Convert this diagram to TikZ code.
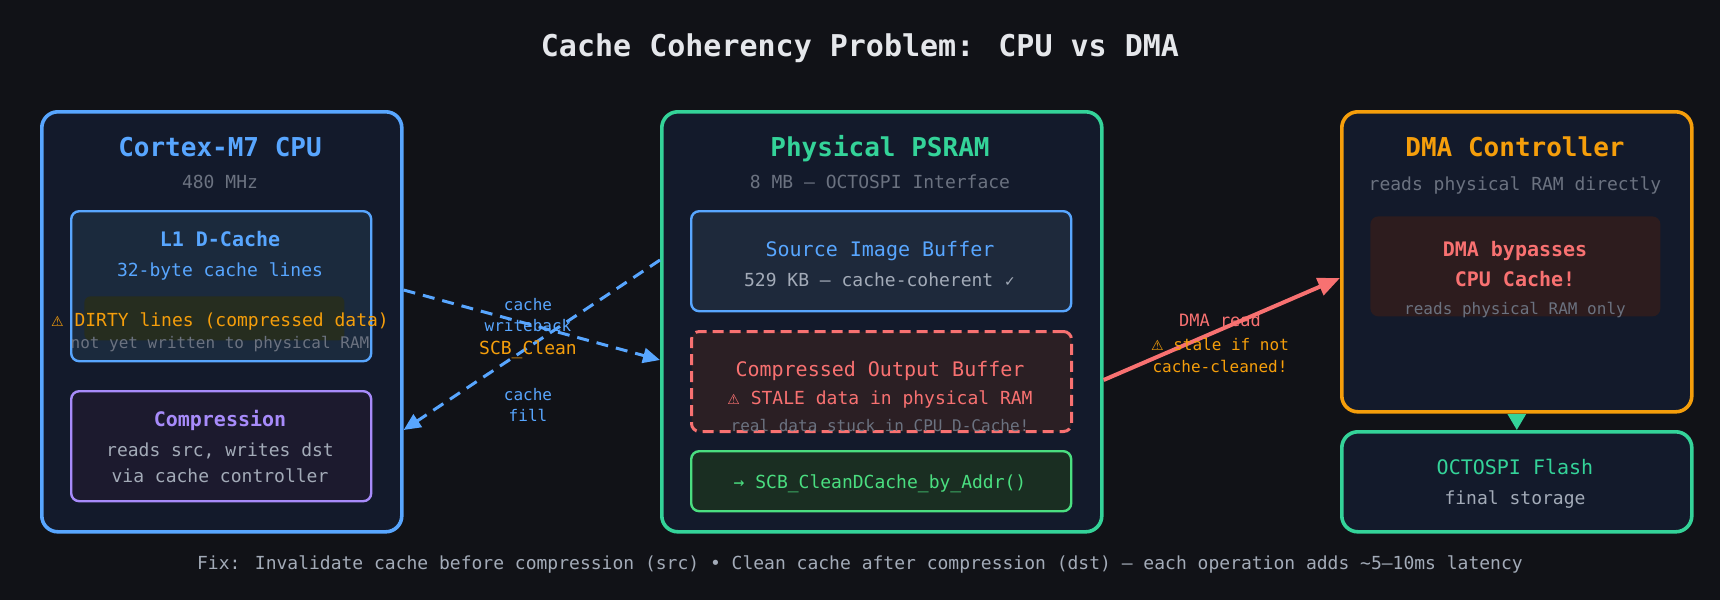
\documentclass[tikz,border=0pt]{standalone}
\usepackage{fontspec}
\setmainfont{DejaVu Sans Mono}
\newfontfamily\symf{DejaVu Sans}
\usetikzlibrary{arrows.meta,calc}
\definecolor{bg}{HTML}{111217}
\definecolor{panelbg}{HTML}{131A2B}
\definecolor{cblue}{HTML}{58A6FF}
\definecolor{cgreen}{HTML}{34D399}
\definecolor{lgreen}{HTML}{4ADE80}
\definecolor{corange}{HTML}{F59E0B}
\definecolor{cred}{HTML}{F87171}
\definecolor{cpurple}{HTML}{A78BFA}
\definecolor{cgray}{HTML}{6B7280}
\definecolor{lgray}{HTML}{A3ABB8}
\definecolor{titlec}{HTML}{E5E7EB}
\definecolor{l1bg}{HTML}{1B2A3D}
\definecolor{srcbg}{HTML}{1E293B}
\definecolor{cmpbg}{HTML}{2B1F24}
\definecolor{scbbg}{HTML}{1A2E22}
\definecolor{dmabg}{HTML}{2D1C1E}
\definecolor{compbg}{HTML}{1C1A2E}
\definecolor{olive}{HTML}{262D1F}
\newcommand{\fsz}[1]{\fontsize{#1}{#1}\selectfont}
\newcommand{\warn}{{\symf\fontsize{7}{7}\selectfont ⚠}}
\begin{document}
\begin{tikzpicture}[x=1pt,y=-1pt,
  panel/.style={draw, line width=1.8pt, rounded corners=8pt, fill=panelbg, inner sep=0, anchor=north west},
  inbox/.style={draw, line width=1.2pt, rounded corners=4pt, inner sep=0, anchor=north west},
  txt/.style={anchor=base, inner sep=0},
  bluearrow/.style={draw=cblue, line width=1.5pt, dash pattern=on 6pt off 4pt, -{Triangle[length=8.5pt,width=7.5pt]}},
]
\useasboundingbox[fill=bg] (0,0) rectangle (860,300);

% title
\node[txt, font=\bfseries\fsz{15}, text=titlec] (title) at (430,28) {Cache Coherency Problem: CPU vs DMA};

% CPU panel
\node[panel, draw=cblue, minimum width=180pt, minimum height=210pt] (cpu) at (20,55) {};
\node[txt, font=\bfseries\fsz{13}, text=cblue] (cputitle) at (110,78.3) {Cortex-M7 CPU};
\node[txt, font=\fsz{9}, text=cgray] (cpusub) at (110,94.2) {480 MHz};
\node[inbox, draw=cblue, fill=l1bg, minimum width=150pt, minimum height=75pt] (l1) at (35,105) {};
\node[txt, font=\bfseries\fsz{10}, text=cblue] (l1t) at (110,123.3) {L1 D-Cache};
\node[txt, font=\fsz{9}, text=cblue] (l1s) at (110,138.3) {32-byte cache lines};
\node[anchor=north west, fill=olive, rounded corners=3pt, minimum width=130pt, minimum height=22pt, inner sep=0] (band) at (42,148) {};
\node[txt, font=\fsz{9}, text=corange] (dirty) at (110,163) {\warn\ DIRTY lines (compressed data)};
\node[txt, font=\fsz{8}, text=cgray] (notyet) at (110,174.2) {not yet written to physical RAM};
\node[inbox, draw=cpurple, fill=compbg, minimum width=150pt, minimum height=55pt] (comp) at (35,195) {};
\node[txt, font=\bfseries\fsz{10}, text=cpurple] (compt) at (110,213.3) {Compression};
\node[txt, font=\fsz{9}, text=lgray] (comps1) at (110,228) {reads src, writes dst};
\node[txt, font=\fsz{9}, text=lgray] (comps2) at (110,241.2) {via cache controller};

% PSRAM panel
\node[panel, draw=cgreen, minimum width=220pt, minimum height=210pt] (psram) at (330,55) {};
\node[txt, font=\bfseries\fsz{13}, text=cgreen] (pst) at (440,78.3) {Physical PSRAM};
\node[txt, font=\fsz{9}, text=cgray] (pss) at (440,94.2) {8 MB — OCTOSPI Interface};
\node[inbox, draw=cblue, fill=srcbg, minimum width=190pt, minimum height=50pt] (src) at (345,105) {};
\node[txt, font=\fsz{10}, text=cblue] (srct) at (440,128.2) {Source Image Buffer};
\node[txt, font=\fsz{9}, text=lgray] (srcs) at (440,143.3) {529 KB — cache-coherent {\symf\fontsize{7}{7}\selectfont ✓}};
\node[inbox, draw=cred, fill=cmpbg, line width=1.5pt, dash pattern=on 5.5pt off 3pt, minimum width=190pt, minimum height=50pt] (cmp) at (345,165) {};
\node[txt, font=\fsz{10}, text=cred] (cmpt) at (440,188) {Compressed Output Buffer};
\node[txt, font=\fsz{9}, text=cred] (cmps) at (440,202.3) {\warn\ STALE data in physical RAM};
\node[txt, font=\fsz{8}, text=cgray] (cmpr) at (440,215.5) {real data stuck in CPU D-Cache!};
\node[inbox, draw=lgreen, fill=scbbg, minimum width=190pt, minimum height=30pt] (scb) at (345,225) {};
\node[txt, font=\fsz{9}, text=lgreen] (scbt) at (440,244.2) {→ SCB\_CleanDCache\_by\_Addr()};

% DMA panel
\node[panel, draw=corange, minimum width=175pt, minimum height=150pt] (dma) at (670,55) {};
\node[txt, font=\bfseries\fsz{13}, text=corange] (dmat) at (757.5,78.3) {DMA Controller};
\node[txt, font=\fsz{9}, text=cgray] (dmas) at (757.5,95) {reads physical RAM directly};
\node[anchor=north west, fill=dmabg, rounded corners=4pt, minimum width=145pt, minimum height=50pt, inner sep=0] (byp) at (685,108) {};
\node[txt, font=\bfseries\fsz{10}, text=cred] (byp1) at (757.5,128.3) {DMA bypasses};
\node[txt, font=\bfseries\fsz{10}, text=cred] (byp2) at (757.5,143.3) {CPU Cache!};
\node[txt, font=\fsz{8}, text=cgray] (byp3) at (757.5,157.2) {reads physical RAM only};

% Flash panel
\node[panel, draw=cgreen, minimum width=175pt, minimum height=50pt] (flash) at (670,215) {};
\node[txt, font=\fsz{10}, text=cgreen] (flt) at (757.5,237.2) {OCTOSPI Flash};
\node[txt, font=\fsz{9}, text=lgray] (fls) at (757.5,252.2) {final storage};

% connectors
\draw[bluearrow] ($(cpu.north east)+(0,90)$) -- ($(psram.north west)+(0,125)$);
\draw[bluearrow] ($(psram.north west)+(0,75)$) -- ($(cpu.north east)+(0,160)$);
\node[txt, font=\fsz{8}, text=cblue] (l1a) at (264,155) {cache};
\node[txt, font=\fsz{8}, text=cblue] (l1b) at (264,165.8) {writeback};
\node[txt, font=\fsz{9}, text=corange] (l1c) at (264,177.2) {SCB\_Clean};
\node[txt, font=\fsz{8}, text=cblue] (l2a) at (264,200) {cache};
\node[txt, font=\fsz{8}, text=cblue] (l2b) at (264,210.8) {fill};

\draw[draw=cred, line width=2pt, -{Triangle[length=11pt,width=9pt]}] ($(psram.north east)+(0,135)$) -- ($(dma.north west)+(0,84)$);
\node[txt, font=\fsz{8.5}, text=cred] (dr1) at (610,163) {DMA read};
\node[txt, font=\fsz{8}, text=corange] (dr2) at (610,175) {\warn\ stale if not};
\node[txt, font=\fsz{8}, text=corange] (dr3) at (610,186.2) {cache-cleaned!};

\draw[draw=cgreen, line width=1.5pt, -{Triangle[length=8pt,width=9pt]}] (dma.south) -- (flash.north);

% footer
\node[txt, font=\fsz{9}, text=lgray] (foot) at (430,284.7) {Fix: Invalidate cache before compression (src) • Clean cache after compression (dst) — each operation adds \textasciitilde5–10ms latency};
\end{tikzpicture}
\end{document}
